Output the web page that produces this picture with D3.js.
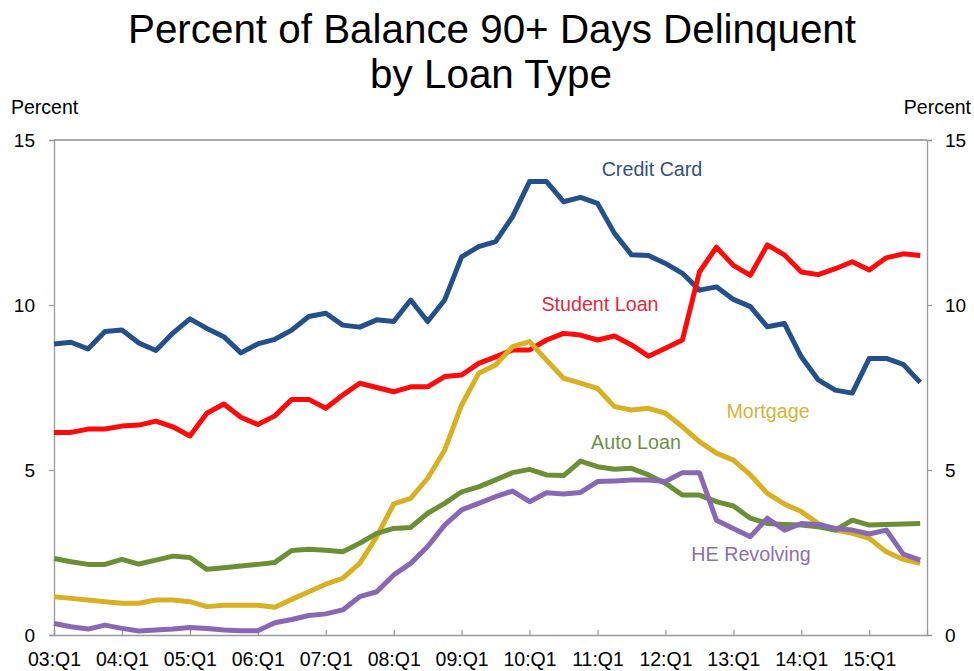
<!DOCTYPE html>
<html>
<head>
<meta charset="utf-8">
<script src="https://cdn.jsdelivr.net/npm/d3@7"></script>
<style>
  html, body { margin: 0; padding: 0; background: #fff; }
  svg { display: block; font-family: "Liberation Sans", Arial, sans-serif; }
</style>
</head>
<body>
<svg id="chart" width="974" height="671"></svg>
<script>
// Quarters 2003:Q1 .. 2015:Q4
const quarters = d3.range(52).map(i => `${String(3 + Math.floor(i / 4)).padStart(2, "0")}:Q${(i % 4) + 1}`);
const tickLabels = ["03:Q1","04:Q1","05:Q1","06:Q1","07:Q1","08:Q1","09:Q1","10:Q1","11:Q1","12:Q1","13:Q1","14:Q1","15:Q1"];
const yTicks = [0, 5, 10, 15];

const creditCard = [8.82,8.87,8.67,9.2,9.24,8.85,8.62,9.15,9.58,9.29,9.04,8.55,8.82,8.96,9.24,9.65,9.75,9.39,9.33,9.55,9.5,10.15,9.5,10.15,11.46,11.77,11.92,12.68,13.74,13.74,13.13,13.26,13.08,12.17,11.52,11.5,11.26,10.96,10.45,10.55,10.17,9.95,9.34,9.44,8.43,7.73,7.42,7.33,8.38,8.38,8.2,7.65];
const studentLoan = [6.14,6.14,6.24,6.24,6.33,6.36,6.48,6.31,6.03,6.72,7.0,6.6,6.38,6.64,7.14,7.14,6.87,7.27,7.63,7.5,7.37,7.52,7.52,7.83,7.88,8.23,8.43,8.64,8.64,8.94,9.14,9.09,8.94,9.06,8.79,8.45,8.69,8.94,11.0,11.75,11.2,10.9,11.82,11.52,11.0,10.92,11.1,11.31,11.06,11.43,11.55,11.5];
const mortgage = [1.16,1.11,1.06,1.01,0.96,0.96,1.06,1.06,1.01,0.86,0.9,0.9,0.9,0.84,1.08,1.31,1.54,1.72,2.17,2.98,3.97,4.14,4.75,5.6,6.97,7.93,8.18,8.74,8.89,8.33,7.78,7.63,7.47,6.92,6.82,6.87,6.72,6.31,5.86,5.51,5.3,4.85,4.29,3.97,3.74,3.38,3.18,3.08,2.93,2.52,2.29,2.17];
const autoLoan = [2.32,2.22,2.14,2.14,2.29,2.15,2.27,2.39,2.35,1.99,2.04,2.09,2.14,2.2,2.56,2.6,2.57,2.52,2.78,3.08,3.23,3.26,3.69,3.99,4.34,4.49,4.7,4.92,5.02,4.85,4.83,5.27,5.1,5.02,5.05,4.85,4.6,4.24,4.24,4.04,3.91,3.54,3.38,3.35,3.33,3.28,3.18,3.48,3.33,3.35,3.36,3.38];
const heRevolving = [0.35,0.25,0.18,0.3,0.2,0.12,0.15,0.18,0.23,0.2,0.15,0.13,0.13,0.37,0.47,0.59,0.64,0.76,1.16,1.31,1.82,2.17,2.68,3.33,3.79,3.99,4.19,4.36,4.04,4.31,4.27,4.32,4.65,4.67,4.7,4.7,4.65,4.92,4.92,3.48,3.23,2.98,3.54,3.18,3.38,3.35,3.23,3.18,3.06,3.18,2.45,2.27];

const seriesNames = ["Credit Card", "Student Loan", "Mortgage", "Auto Loan", "HE Revolving"];
const seriesValues = [creditCard, studentLoan, mortgage, autoLoan, heRevolving];
const seriesColors = ["#234f8a", "#ff0a0a", "#d9b022", "#6a8f35", "#8868b5"];
const labelColors = ["#2f4f83", "#e8283a", "#d7b43a", "#6f8f45", "#8a70b0"];
const labelPos = [[652, 176], [600, 311], [768, 418], [636, 449], [751, 561]]; // [x-center, baseline] in px

const svg = d3.select("#chart");
const mLeft = 54, mRight = 927, mTop = 140, mBottom = 635;

const x = d3.scaleLinear().domain([0, 51.4]).range([mLeft, mRight]);
const y = d3.scaleLinear().domain([0, 15]).range([mBottom, mTop]);

// Title
svg.append("text").attr("x", 492).attr("y", 43).attr("text-anchor", "middle")
  .attr("font-size", 41).attr("fill", "#000")
  .attr("textLength", 728).attr("lengthAdjust", "spacingAndGlyphs")
  .text("Percent of Balance 90+ Days Delinquent");
svg.append("text").attr("x", 491).attr("y", 88).attr("text-anchor", "middle")
  .attr("font-size", 41).attr("fill", "#000")
  .attr("textLength", 242).attr("lengthAdjust", "spacingAndGlyphs")
  .text("by Loan Type");

// Axis titles
svg.append("text").attr("x", 11).attr("y", 114).attr("font-size", 19.5).attr("fill", "#000").text("Percent");
svg.append("text").attr("x", 971).attr("y", 114).attr("text-anchor", "end").attr("font-size", 19.5).attr("fill", "#000").text("Percent");

// Frame: top line
svg.append("line").attr("x1", mLeft).attr("x2", mRight).attr("y1", mTop).attr("y2", mTop)
  .attr("stroke", "#555").attr("stroke-width", 1.2);

// Left axis
const gL = svg.append("g").attr("transform", `translate(${mLeft},0)`)
  .call(d3.axisLeft(y).tickValues(yTicks).tickSize(5).tickPadding(14).tickFormat(d3.format("d")));
// Right axis
const gR = svg.append("g").attr("transform", `translate(${mRight},0)`)
  .call(d3.axisRight(y).tickValues(yTicks).tickSize(5).tickPadding(13).tickFormat(d3.format("d")));
// Bottom axis
const tickIdx = tickLabels.map((t) => quarters.indexOf(t));
const gB = svg.append("g").attr("transform", `translate(0,${mBottom})`)
  .call(d3.axisBottom(x).tickValues(tickIdx).tickSize(-5).tickPadding(17)
    .tickFormat(i => tickLabels[tickIdx.indexOf(i)]));

[gL, gR, gB].forEach(g => {
  g.select(".domain").attr("stroke", "#9a9a9a").attr("stroke-width", 1.3);
  g.selectAll(".tick line").attr("stroke", "#9a9a9a").attr("stroke-width", 1.2);
  g.selectAll(".tick text").attr("fill", "#000").attr("font-size", 19)
    .attr("font-family", '"Liberation Sans", Arial, sans-serif');
});
gB.selectAll(".tick text").attr("font-size", 19.5);

// Lines
const line = d3.line().x((d, i) => x(i)).y(d => y(d)).curve(d3.curveLinear);
seriesValues.forEach((vals, k) => {
  svg.append("path").datum(vals)
    .attr("d", line)
    .attr("fill", "none")
    .attr("stroke", seriesColors[k])
    .attr("stroke-width", 5)
    .attr("stroke-linejoin", "round")
    .attr("stroke-linecap", "butt");
});

// Series labels
seriesNames.forEach((name, k) => {
  svg.append("text").attr("x", labelPos[k][0]).attr("y", labelPos[k][1])
    .attr("text-anchor", "middle").attr("font-size", 19.7)
    .attr("fill", labelColors[k]).text(name);
});
</script>
</body>
</html>
